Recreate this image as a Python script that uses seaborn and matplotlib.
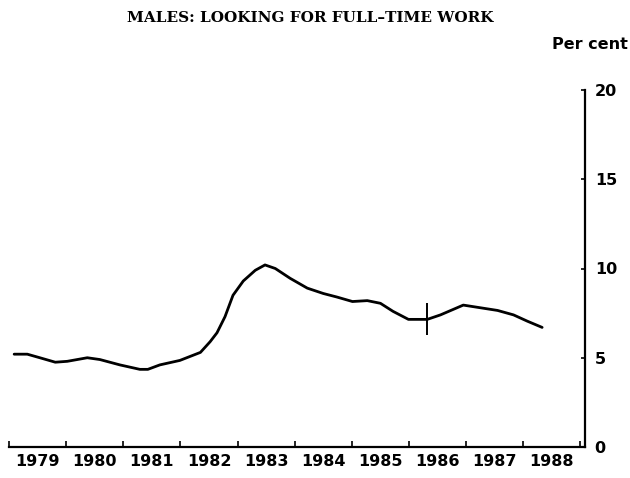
import numpy as np
import matplotlib
matplotlib.use("Agg")
import matplotlib.pyplot as plt
import seaborn as sns

# --- data (year as decimal, per cent) ---
years = [1979.09, 1979.32, 1979.54, 1979.81, 1980.02, 1980.37, 1980.59, 1980.94,
         1981.29, 1981.43, 1981.64, 1981.99, 1982.35, 1982.52, 1982.64, 1982.78,
         1982.92, 1983.10, 1983.31, 1983.48, 1983.66, 1983.92, 1984.22, 1984.50,
         1984.74, 1985.01, 1985.27, 1985.50, 1985.72, 1985.99, 1986.32, 1986.55,
         1986.95, 1987.25, 1987.55, 1987.83, 1988.07, 1988.33]
per_cent = [5.2, 5.2, 5.0, 4.75, 4.8, 5.0, 4.9, 4.6,
            4.35, 4.35, 4.6, 4.85, 5.3, 5.9, 6.4, 7.3,
            8.5, 9.3, 9.9, 10.2, 10.0, 9.45, 8.9, 8.6,
            8.4, 8.15, 8.2, 8.05, 7.6, 7.15, 7.15, 7.4,
            7.95, 7.8, 7.65, 7.4, 7.05, 6.7]

# series break marker
break_year = [1986.32]
break_value = [7.15]

year_labels = [str(y) for y in range(1979, 1989)]
y_ticks = [0, 5, 10, 15, 20]

# --- plot ---
sns.set_style("ticks", {'text.color': 'black', 'xtick.color': 'black',
                        'ytick.color': 'black', 'axes.edgecolor': 'black'})
plt.rcParams['font.family'] = ['DejaVu Sans']

fig = plt.figure(figsize=(6.3, 4.78), dpi=100)
ax = fig.add_axes([9 / 630, 1 - 447 / 478, 576 / 630, 357 / 478])

sns.lineplot(x=years, y=per_cent, ax=ax, color='black', linewidth=2.0,
             solid_joinstyle='round', solid_capstyle='round')
ax.plot(break_year, break_value, marker='|', markersize=23,
        markeredgewidth=1.4, color='black', linestyle='none')

ax.set_xlim(1979, 1989.08)
ax.set_ylim(0, 20)

for side in ['top', 'left']:
    ax.spines[side].set_visible(False)
for side in ['bottom', 'right']:
    ax.spines[side].set_linewidth(1.6)
    ax.spines[side].set_color('black')

# x axis: ticks at year boundaries, labels centred on each year
ax.set_xticks(range(1979, 1990))
ax.set_xticklabels([])
ax.set_xticks([y + 0.5 for y in range(1979, 1989)], minor=True)
ax.set_xticklabels(year_labels, minor=True, fontsize=11.5, fontweight='bold',
                   color='black')
ax.tick_params(axis='x', which='major', direction='in', length=4, width=1.2)
ax.tick_params(axis='x', which='minor', length=0, pad=5)

# y axis on the right
ax.yaxis.tick_right()
ax.set_yticks(y_ticks)
ax.set_yticklabels([str(v) for v in y_ticks], fontsize=11.5, fontweight='bold',
                   color='black')
ax.tick_params(axis='y', direction='in', length=3, width=1.2, pad=7)

ax.set_xlabel('')
ax.set_ylabel('')

fig.text(0.492, 0.962, 'MALES: LOOKING FOR FULL\u2013TIME WORK', ha='center',
         va='center', fontsize=11, fontweight='bold', family='DejaVu Serif',
         color='black')
fig.text(0.997, 0.906, 'Per cent', ha='right', va='center', fontsize=11.5,
         fontweight='bold', color='black')

fig.savefig('out.png', dpi=100, facecolor='white')
